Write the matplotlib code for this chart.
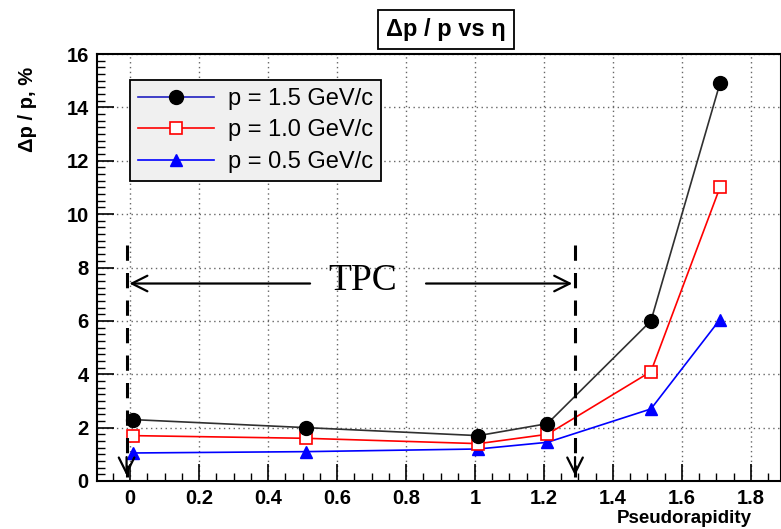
import numpy as np
import matplotlib
matplotlib.use("Agg")
import matplotlib.pyplot as plt
from matplotlib.lines import Line2D
from matplotlib.ticker import MultipleLocator

# data
eta = [0.01, 0.51, 1.01, 1.21, 1.51, 1.71]
res_15 = [2.3, 2.0, 1.7, 2.15, 6.0, 14.9]
res_10 = [1.7, 1.6, 1.4, 1.75, 4.1, 11.0]
res_05 = [1.05, 1.1, 1.2, 1.45, 2.7, 6.05]
labels = ["p = 1.5 GeV/c", "p = 1.0 GeV/c", "p = 0.5 GeV/c"]

# TPC acceptance annotation
tpc_lo, tpc_hi = -0.01, 1.29
tpc_top, tpc_y = 8.85, 7.4

plt.rcParams['font.family'] = ['Liberation Sans', 'DejaVu Sans']

fig = plt.figure(figsize=(7.81, 5.29), dpi=100)
ax = fig.add_axes([97/781, 1-481/529, 1-97/781, (481-54)/529])

ax.plot(eta, res_15, color='#303030', lw=1.2, marker='o', ms=10, mfc='black', mec='black', zorder=5)
ax.plot(eta, res_10, color='red', lw=1.2, marker='s', ms=8, mfc='white', mec='red', mew=1.2, zorder=4)
ax.plot(eta, res_05, color='blue', lw=1.2, marker='^', ms=9, mfc='blue', mec='blue', zorder=3)

ax.set_xlim(-0.0957, 1.887)
ax.set_ylim(0, 16)
ax.xaxis.set_minor_locator(MultipleLocator(0.05))
ax.yaxis.set_major_locator(MultipleLocator(2))
ax.yaxis.set_minor_locator(MultipleLocator(0.25))
ax.set_xticks(np.arange(0, 1.81, 0.2))
ax.set_xticklabels(['0', '0.2', '0.4', '0.6', '0.8', '1', '1.2', '1.4', '1.6', '1.8'])
ax.tick_params(which='major', direction='in', length=12, width=1.2, labelsize=14.5, pad=6)
ax.tick_params(which='minor', direction='in', length=6, width=1.0)
for lab in ax.get_xticklabels() + ax.get_yticklabels():
    lab.set_fontweight('bold')
for sp in ax.spines.values():
    sp.set_linewidth(1.5)
ax.grid(True, which='major', ls=(0, (1, 2.5)), color='#666666', lw=1.0)

ax.set_ylabel("\u0394p / p, %", fontsize=14.5, fontweight='bold')
ax.yaxis.set_label_coords(-0.088, 0.87)
fig.text(0.962, 0.004, "Pseudorapidity", ha='right', va='bottom', fontsize=13.5, fontweight='bold')

# TPC range markers
for xv in (tpc_lo, tpc_hi):
    ax.plot([xv, xv], [tpc_top, 0.15], color='black', lw=2.2, ls=(0, (5, 4)), zorder=6)
    ax.annotate('', xy=(xv, 0.1), xytext=(xv, 1.0),
                arrowprops=dict(arrowstyle='->', lw=1.6, color='black', mutation_scale=28), zorder=6)
ax.annotate('', xy=(tpc_lo, tpc_y), xytext=(0.53, tpc_y),
            arrowprops=dict(arrowstyle='->', lw=1.6, color='black', mutation_scale=28))
ax.annotate('', xy=(tpc_hi, tpc_y), xytext=(0.85, tpc_y),
            arrowprops=dict(arrowstyle='->', lw=1.6, color='black', mutation_scale=28))
ax.text(0.675, tpc_y + 0.1, "TPC", ha='center', va='center', fontsize=27,
        family=['Liberation Serif', 'DejaVu Serif'])

# legend in ROOT style
handles = [
    Line2D([], [], color='#2020c0', lw=1.2, marker='o', ms=10, mfc='black', mec='black'),
    Line2D([], [], color='red', lw=1.2, marker='s', ms=8, mfc='white', mec='red', mew=1.2),
    Line2D([], [], color='blue', lw=1.2, marker='^', ms=9, mfc='blue', mec='blue'),
]
leg = ax.legend(handles, labels, loc='upper left', bbox_to_anchor=(0.048, 0.94),
                fontsize=17, frameon=True, fancybox=False, edgecolor='black',
                facecolor='#f0f0f0', framealpha=1, handlelength=3.2, borderpad=0.35,
                labelspacing=0.4, handletextpad=0.6, borderaxespad=0)
leg.get_frame().set_linewidth(1.3)

# title box
fig.text(0.571, 0.944, "\u0394p / p vs \u03b7", ha='center', va='center',
         fontsize=17, fontweight='bold',
         bbox=dict(boxstyle='square,pad=0.35', fc='white', ec='black', lw=1.3))

fig.savefig("out.png", dpi=100)
